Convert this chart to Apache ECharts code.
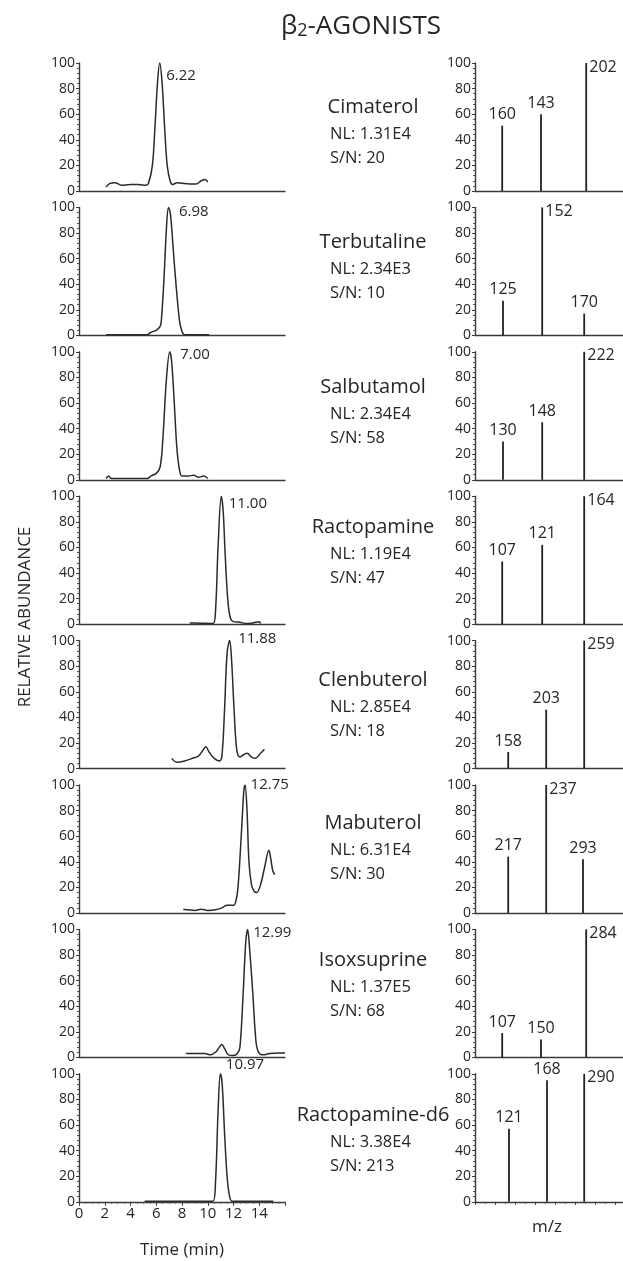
<!DOCTYPE html>
<html>
<head>
<meta charset="utf-8">
<script src="https://cdn.jsdelivr.net/npm/echarts@6/dist/echarts.min.js"></script>
<style>
html, body { margin: 0; padding: 0; background: #fff; }
#chart { width: 623px; height: 1261px; }
</style>
</head>
<body>
<div id="chart"></div>
<script>
// compounds, one row each
var compounds = ['Cimaterol', 'Terbutaline', 'Salbutamol', 'Ractopamine', 'Clenbuterol', 'Mabuterol', 'Isoxsuprine', 'Ractopamine-d6'];
var nlValues = ['1.31E4', '2.34E3', '2.34E4', '1.19E4', '2.85E4', '6.31E4', '1.37E5', '3.38E4'];
var snValues = ['20', '10', '58', '47', '18', '30', '68', '213'];
var retentionLabels = ['6.22', '6.98', '7.00', '11.00', '11.88', '12.75', '12.99', '10.97'];
var timeTicks = [0, 2, 4, 6, 8, 10, 12, 14];

// chromatogram traces [time (min), relative abundance]
var cimaterolTrace = [[2.1,3],[2.4,6],[2.8,6.5],[3.3,4.5],[4,5],[4.6,5],[5.2,4.5],[5.4,6],[5.7,20],[5.9,50],[6.1,85],[6.27,100],[6.45,85],[6.65,50],[6.85,20],[7.1,7],[7.3,5],[7.6,6.5],[8,6],[8.6,5.5],[9.1,5.5],[9.5,8],[9.8,9],[10.0,7]];
var terbutalineTrace = [[2.1,0.5],[5.3,0.5],[5.6,2.5],[6.0,4],[6.3,7],[6.4,12],[6.6,44],[6.8,85],[6.95,100],[7.1,95],[7.3,70],[7.5,44],[7.8,12],[8.0,3],[8.2,0.5],[10.1,0.5]];
var salbutamolTrace = [[2.1,1],[2.3,3],[2.5,1],[5.3,1],[5.6,3],[6.0,5],[6.3,10],[6.5,30],[6.8,80],[7.05,100],[7.2,92],[7.4,60],[7.6,25],[7.8,8],[8.0,3],[8.5,3],[8.9,3.5],[9.3,2],[9.7,3],[10.0,1]];
var ractopamineTrace = [[8.6,1],[8.9,1],[10.4,0.5],[10.6,10],[10.8,60],[11.05,100],[11.2,88],[11.35,55],[11.55,20],[11.75,5],[12.0,2],[12.5,1.5],[13,0.5],[13.5,1],[14,2],[14.1,0.5]];
var clenbuterolTrace = [[7.2,8],[7.6,5],[8.2,6],[8.8,8],[9.3,10],[9.6,14],[9.85,17],[10.1,13],[10.5,8],[10.9,6],[11.1,10],[11.3,45],[11.5,90],[11.7,100],[11.85,85],[12.05,45],[12.25,15],[12.5,9],[12.8,11],[13.05,12],[13.4,9],[13.7,8],[14.1,12],[14.4,15]];
var mabuterolTrace = [[8.1,3],[8.5,2.5],[9.0,2],[9.5,3],[10.0,2],[10.6,2.5],[11.1,4],[11.5,6],[12.0,6],[12.2,10],[12.35,20],[12.6,60],[12.8,95],[12.9,100],[13.05,80],[13.2,40],[13.4,22],[13.6,17],[13.8,16],[14.1,22],[14.4,35],[14.75,49],[14.9,42],[15.05,33],[15.2,30]];
var isoxsuprineTrace = [[8.3,3],[9.0,3],[9.8,3],[10.2,2],[10.6,4],[10.9,8],[11.1,10],[11.3,7],[11.6,2],[12.0,1.5],[12.3,3],[12.5,8],[12.75,50],[12.95,90],[13.1,100],[13.25,85],[13.5,50],[13.75,12],[13.95,4],[14.3,2],[14.8,3],[15.5,3.5],[16,3.5]];
var ractopamineD6Trace = [[5.1,0.5],[10.4,0.5],[10.6,15],[10.8,70],[10.98,100],[11.12,92],[11.3,55],[11.5,20],[11.7,4],[11.9,0.5],[12.8,0.5],[15.1,0.5]];
var traces = [cimaterolTrace, terbutalineTrace, salbutamolTrace, ractopamineTrace, clenbuterolTrace, mabuterolTrace, isoxsuprineTrace, ractopamineD6Trace];

// product ion spectra: m/z label, relative intensity, slot on the schematic m/z axis
var specMz = [[160,143,202],[125,152,170],[130,148,222],[107,121,164],[158,203,259],[217,237,293],[107,150,284],[121,168,290]];
var specInt = [[51,60,100],[27,100,17],[30,45,100],[49,62,100],[13,46,100],[44,100,42],[19,14,100],[57,95,100]];
var specSlot = [[0.68,1.65,2.78],[0.7,1.68,2.73],[0.7,1.68,2.73],[0.68,1.68,2.73],[0.83,1.78,2.73],[0.83,1.78,2.7],[0.68,1.65,2.78],[0.85,1.8,2.73]];

// layout
var FONT = '"Open Sans", "Noto Sans", sans-serif';
var INK = '#262626';
var ROW_TOP = 63, ROW_STEP = 144.4, ROW_H = 128;
var nameDy = [44, 35, 35, 31, 40, 38, 31, 41];
var peakLabelOffset = [[1,13],[5,4],[5,3],[2,8],[3,-2],[0,0],[0,3],[0,-9]];

var grids = [], xAxes = [], yAxes = [], series = [], graphics = [];
var n = compounds.length;

function yAxisOpt(g) {
    return {
        type: 'value', gridIndex: g, min: 0, max: 100, interval: 20,
        axisLine: { show: true, lineStyle: { color: '#3a3a3a', width: 1.4 } },
        axisTick: { show: true, length: 3, lineStyle: { color: '#3a3a3a' } },
        minorTick: { show: true, splitNumber: 5, length: 2, lineStyle: { color: '#555' } },
        axisLabel: { fontSize: 14, color: INK, margin: 4, fontFamily: FONT },
        splitLine: { show: false }
    };
}

for (var i = 0; i < n; i++) {
    var rowY = ROW_TOP + i * ROW_STEP;
    var last = (i === n - 1);
    var gl = i * 2, gr = i * 2 + 1;

    grids.push({ left: 79, top: rowY, width: 206, height: ROW_H });
    grids.push({ left: 475, top: rowY, width: 148, height: ROW_H });

    xAxes.push({
        type: 'value', gridIndex: gl, min: 0, max: 16, interval: 2,
        axisLine: { show: true, onZero: false, lineStyle: { color: '#3a3a3a', width: 1.4 } },
        axisTick: { show: last, length: 4, lineStyle: { color: '#3a3a3a' } },
        minorTick: { show: last, splitNumber: 4, length: 2, lineStyle: { color: '#555' } },
        axisLabel: {
            show: last, fontSize: 15, color: INK, margin: 4, fontFamily: FONT,
            formatter: function (v) { return timeTicks.indexOf(v) >= 0 ? String(v) : ''; }
        },
        splitLine: { show: false }
    });
    xAxes.push({
        type: 'value', gridIndex: gr, min: 0, max: 3.7, interval: 0.5,
        axisLine: { show: true, onZero: false, lineStyle: { color: '#3a3a3a', width: 1.4 } },
        axisTick: { show: last, length: 3, lineStyle: { color: '#3a3a3a' } },
        minorTick: { show: last, splitNumber: 2, length: 2, lineStyle: { color: '#555' } },
        axisLabel: { show: false },
        splitLine: { show: false }
    });
    yAxes.push(yAxisOpt(gl));
    yAxes.push(yAxisOpt(gr));

    // peak apex for the retention time label
    var tr = traces[i], apex = tr[0];
    for (var k = 1; k < tr.length; k++) {
        if (tr[k][1] > apex[1]) apex = tr[k];
    }

    series.push({
        type: 'line', xAxisIndex: gl, yAxisIndex: gl, data: tr,
        smooth: 0.35, symbol: 'none', silent: true,
        lineStyle: { color: '#2a2a2a', width: 1.5 },
        markPoint: {
            symbol: 'circle', symbolSize: 1, silent: true,
            itemStyle: { color: 'rgba(0,0,0,0)' },
            label: {
                show: true, position: 'right', formatter: '{b}',
                offset: peakLabelOffset[i], fontSize: 15, color: INK, fontFamily: FONT
            },
            data: [{ name: retentionLabels[i], coord: apex.slice() }]
        }
    });

    var sticks = [];
    for (var j = 0; j < specMz[i].length; j++) {
        var isBase = specInt[i][j] >= 99;
        sticks.push({
            value: [specSlot[i][j], specInt[i][j]],
            label: isBase
                ? { show: true, position: [4, -4], align: 'left', verticalAlign: 'top', formatter: String(specMz[i][j]) }
                : { show: true, position: 'top', distance: 3, formatter: String(specMz[i][j]) }
        });
    }
    series.push({
        type: 'bar', xAxisIndex: gr, yAxisIndex: gr, data: sticks,
        barWidth: 1.8, silent: true,
        itemStyle: { color: '#222' },
        label: { fontSize: 16, color: INK, fontFamily: FONT }
    });

    var nameY = rowY + nameDy[i];
    graphics.push({
        type: 'text', x: 373, y: nameY,
        style: { text: compounds[i], font: '20px ' + FONT, fill: INK, align: 'center', verticalAlign: 'middle' }
    });
    graphics.push({
        type: 'text', x: 330, y: nameY + 27,
        style: { text: 'NL: ' + nlValues[i], font: '16.5px ' + FONT, fill: INK, align: 'left', verticalAlign: 'middle' }
    });
    graphics.push({
        type: 'text', x: 330, y: nameY + 51,
        style: { text: 'S/N: ' + snValues[i], font: '16.5px ' + FONT, fill: INK, align: 'left', verticalAlign: 'middle' }
    });
}

graphics.push({
    type: 'text', x: 361, y: 27,
    style: {
        text: '{a|β}{b|2}{a|-AGONISTS}', align: 'center', verticalAlign: 'middle',
        rich: {
            a: { font: '26px ' + FONT, fill: INK },
            b: { font: '18px ' + FONT, fill: INK, padding: [7, 0, 0, 0] }
        }
    }
});
graphics.push({
    type: 'text', x: 25, y: 617, rotation: Math.PI / 2,
    style: { text: 'RELATIVE ABUNDANCE', font: '17px ' + FONT, fill: INK, align: 'center', verticalAlign: 'middle' }
});
graphics.push({
    type: 'text', x: 182, y: 1250,
    style: { text: 'Time (min)', font: '17px ' + FONT, fill: INK, align: 'center', verticalAlign: 'middle' }
});
graphics.push({
    type: 'text', x: 547, y: 1227,
    style: { text: 'm/z', font: '17px ' + FONT, fill: INK, align: 'center', verticalAlign: 'middle' }
});

var myChart = echarts.init(document.getElementById('chart'));
myChart.setOption({
    animation: false,
    backgroundColor: '#fff',
    grid: grids,
    xAxis: xAxes,
    yAxis: yAxes,
    series: series,
    graphic: graphics
});
</script>
</body>
</html>
